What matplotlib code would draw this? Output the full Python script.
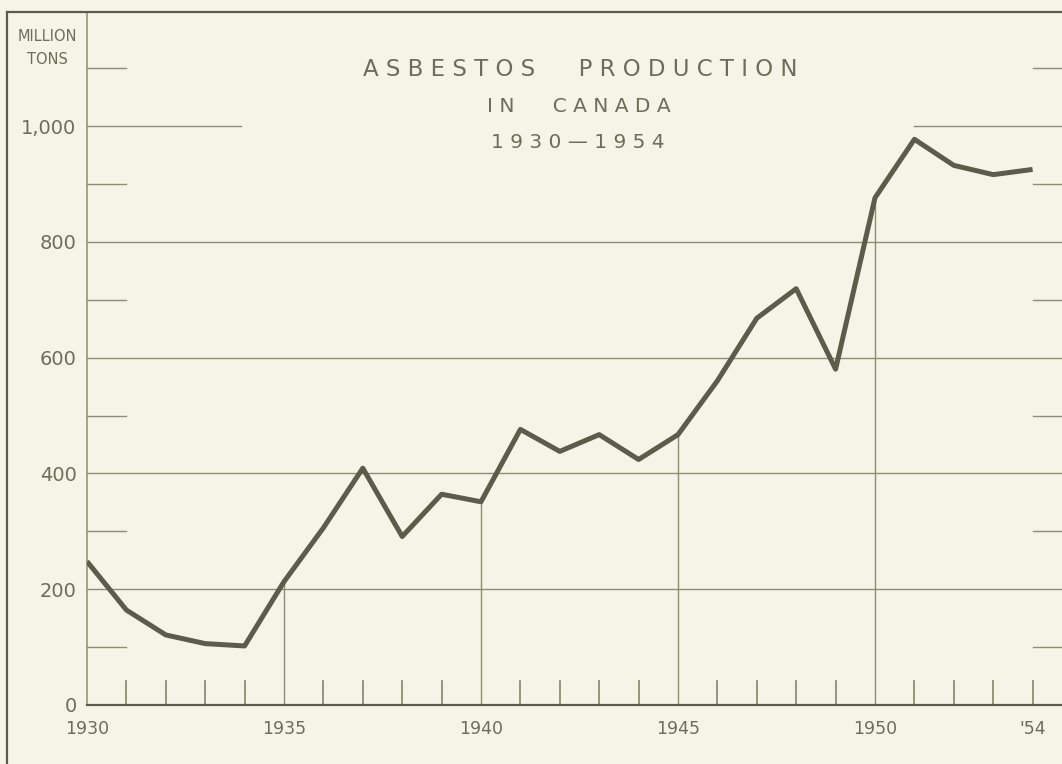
"""
Asbestos production in Canada, 1930-1954
"""

import matplotlib
matplotlib.use("Agg")
import matplotlib.pyplot as plt
from matplotlib.lines import Line2D

## Data
years = list(range(1930, 1955))
production = [248, 164, 121, 106, 102, 213, 306, 409, 291, 364, 351,
              476, 438, 467, 424, 467, 560, 668, 719, 580, 876,
              977, 932, 916, 925]

y_ticks = [0, 200, 400, 600, 800, 1000]
y_tick_labels = ["0", "200", "400", "600", "800", "1,000"]
x_ticks = [1930, 1935, 1940, 1945, 1950, 1954]
x_tick_labels = ["1930", "1935", "1940", "1945", "1950", "'54"]
odd_hundreds = [100, 300, 500, 700, 900, 1100]

title_words = ["ASBESTOS", "PRODUCTION"]
subtitle_words = ["IN", "CANADA"]
period_words = ["1930", "—", "1954"]
unit_label = "MILLION\nTONS"

## Colours
paper = "#f4f5e7"
ink = "#6c6e5a"
curve = "#5b5d4a"
rule = "#8b8e74"

plt.rcParams["font.family"] = ["DejaVu Sans"]


def spaced(words, gap):
    # hand-lettered look: letters spread apart, wide gap between words
    return (" " * gap).join(" ".join(w) for w in words)


W, H = 1062, 764
fig = plt.figure(figsize=(W / 100, H / 100), dpi=100, facecolor=paper)

# axes box in pixels: left spine at x=87, x-axis at y=705, top frame at y=12
left_px, bottom_px, top_px = 87, 705, 12
ax = fig.add_axes([left_px / W, (H - bottom_px) / H,
                   (W - left_px) / W, (bottom_px - top_px) / H])
ax.set_facecolor(paper)

px_per_year = 39.4
px_per_unit = 0.579
x_max = 1930 + (W - left_px) / px_per_year
y_max = (bottom_px - top_px) / px_per_unit
ax.set_xlim(1930, x_max)
ax.set_ylim(0, y_max)

for side in ["top", "right"]:
    ax.spines[side].set_visible(False)
ax.spines["left"].set_color(rule)
ax.spines["left"].set_linewidth(1.1)
ax.spines["bottom"].set_color(curve)
ax.spines["bottom"].set_linewidth(1.6)

## Grid lines
for v in [200, 400, 600, 800]:
    ax.plot([1930, x_max], [v, v], color=rule, lw=1.0, zorder=1)
# 1,000 line broken around the title
ax.plot([1930, 1933.9], [1000, 1000], color=rule, lw=1.0, zorder=1)
ax.plot([1951, x_max], [1000, 1000], color=rule, lw=1.0, zorder=1)

# short marks at the odd hundreds, both sides
for v in odd_hundreds:
    ax.plot([1930, 1931], [v, v], color=rule, lw=1.0, zorder=1)
    ax.plot([1954, x_max], [v, v], color=rule, lw=1.0, zorder=1)

# year marks: short ones, long ones up to the curve every 5 years
short_len = 24 / px_per_unit
for yr, val in zip(years[1:], production[1:]):
    if yr % 5 == 0:
        ax.plot([yr, yr], [0, val], color=rule, lw=1.0, zorder=1)
    else:
        ax.plot([yr, yr], [0, short_len], color=rule, lw=1.3, zorder=1)

## The curve
ax.plot(years, production, color=curve, lw=3.6, solid_joinstyle="round",
        solid_capstyle="butt", zorder=3)

## Ticks and labels
ax.set_yticks(y_ticks)
ax.set_yticklabels(y_tick_labels)
ax.set_xticks(x_ticks)
ax.set_xticklabels(x_tick_labels)
ax.tick_params(axis="y", length=0, pad=7.5, labelsize=14, labelcolor=ink)
ax.tick_params(axis="x", length=0, pad=11, labelsize=12.5, labelcolor=ink)


## Titles (figure pixel positions)
def fig_text(x, y, s, size, **kw):
    fig.text(x / W, 1 - y / H, s, fontsize=size, color=ink,
             ha="center", va="center", **kw)


fig_text(580, 70, spaced(title_words, 6), 16.5)
fig_text(579, 107, spaced(subtitle_words, 6), 14.5)
fig_text(578, 143, spaced(period_words, 1), 14.5)
fig_text(47, 48, unit_label, 10.5, linespacing=1.6)

## Outer frame (left and top edges of the sheet)
fig.add_artist(Line2D([7 / W, 7 / W], [0, 1 - 12 / H], color=curve, lw=1.6))
fig.add_artist(Line2D([7 / W, 1], [1 - 12 / H, 1 - 12 / H], color=curve, lw=1.6))

fig.savefig("out.png", dpi=100, facecolor=paper)
